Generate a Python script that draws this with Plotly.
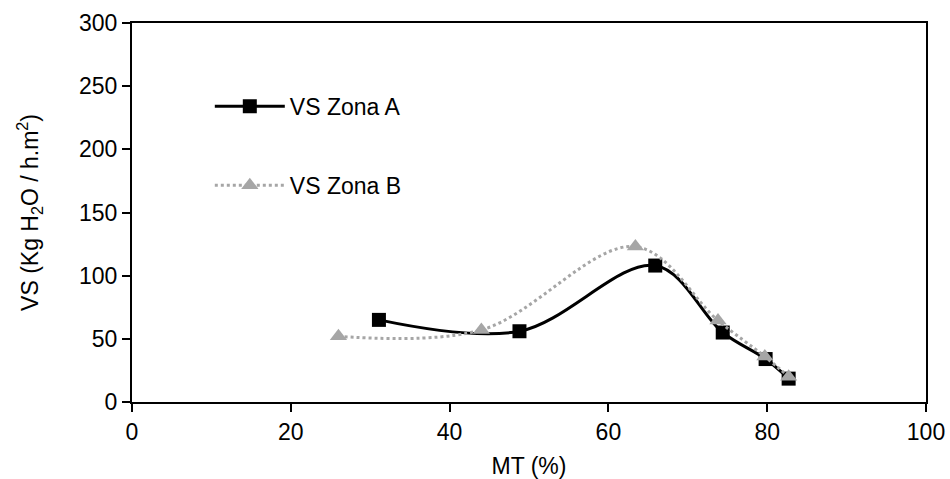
import plotly.graph_objects as go

# Zona A measurements
mt_a = [31.1, 48.8, 65.9, 74.4, 79.8, 82.7]
vs_a = [65, 56, 108, 55, 34, 18.5]

# Zona B measurements
mt_b = [26.0, 44.0, 63.4, 73.8, 79.7, 82.7]
vs_b = [52, 57, 123, 64.5, 36, 20]

x_ticks = [0, 20, 40, 60, 80, 100]
y_ticks = [0, 50, 100, 150, 200, 250, 300]

FONT = "Liberation Sans, Arial, sans-serif"
FS = 23

fig = go.Figure()
fig.add_trace(go.Scatter(
    x=mt_a, y=vs_a, name="VS Zona A", legendgroup="a",
    mode="lines+markers",
    line=dict(color="black", width=3, shape="spline", smoothing=1),
    marker=dict(symbol="square", size=14, color="black"),
))
fig.add_trace(go.Scatter(
    x=mt_b, y=vs_b, name="VS Zona B", legendgroup="b",
    mode="lines+markers",
    line=dict(color="#A6A6A6", width=3, dash="dot", shape="spline", smoothing=1),
    marker=dict(symbol="triangle-up", size=15, color="#A6A6A6"),
))

axis_common = dict(
    showline=True, linecolor="black", linewidth=2, mirror=True,
    ticks="outside", ticklen=8, tickwidth=2, tickcolor="black",
    showgrid=False, zeroline=False, automargin=False,
    tickfont=dict(family=FONT, size=FS, color="black"),
)

fig.update_xaxes(
    range=[0, 100], tickvals=x_ticks,
    title=dict(text="MT (%)", font=dict(family=FONT, size=FS, color="black"), standoff=14),
    **axis_common,
)
fig.update_yaxes(
    range=[0, 300], tickvals=y_ticks,
    title=dict(text="VS (Kg H<sub>2</sub>O / h.m<sup>2</sup>)",
               font=dict(family=FONT, size=FS, color="black"), standoff=34),
    **axis_common,
)

fig.update_layout(
    width=950, height=479,
    margin=dict(l=132, r=24, t=23, b=77),
    paper_bgcolor="white", plot_bgcolor="white",
    font=dict(family=FONT, size=FS, color="black"),
    legend=dict(
        x=0.098, y=0.837, xanchor="left", yanchor="top",
        bgcolor="rgba(0,0,0,0)", traceorder="grouped", tracegroupgap=46,
        itemwidth=70,
        font=dict(family=FONT, size=FS, color="black"),
    ),
)

fig.write_html("out.html")
